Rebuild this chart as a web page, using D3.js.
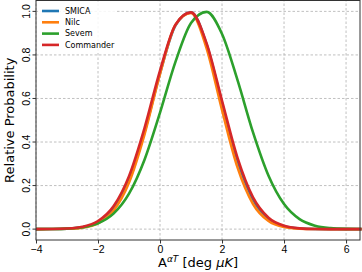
<!DOCTYPE html>
<html>
<head>
<meta charset="utf-8">
<script src="https://cdn.jsdelivr.net/npm/d3@7"></script>
<style>
  body { margin: 0; background: #fff; }
  svg { display: block; font-family: "DejaVu Sans", sans-serif; }
  .grid line { stroke: #b0b0b0; stroke-dasharray: 2.5,2; stroke-width: 0.8; }
  .axis path, .axis line { stroke: #333; }
  .axis text { fill: #000; font-size: 10.5px; }
</style>
</head>
<body>
<script>
// x samples (deg uK)
var xs = [-4, -3.5, -3, -2.5, -2, -1.5, -1, -0.5, 0, 0.5, 1, 1.5, 2, 2.5, 3, 3.5, 4, 4.5, 5, 5.5, 6, 6.5];
// relative probability
var smica = [0, 0.0003, 0.0019, 0.0084, 0.031, 0.0926, 0.225, 0.4449, 0.7155, 0.936, 0.9955, 0.8493, 0.5776, 0.3132, 0.1353, 0.0466, 0.0128, 0.0028, 0.0005, 0.0001, 0, 0];
var nilc = [0, 0.0002, 0.0014, 0.0068, 0.0267, 0.0843, 0.2136, 0.4352, 0.7132, 0.9389, 0.9931, 0.8313, 0.5473, 0.2833, 0.1153, 0.0369, 0.0093, 0.0018, 0.0003, 0, 0, 0];
var sevem = [0.0001, 0.0006, 0.0023, 0.0085, 0.0266, 0.0711, 0.1627, 0.3189, 0.5352, 0.7692, 0.9468, 0.9979, 0.8964, 0.6844, 0.4441, 0.2449, 0.1148, 0.0457, 0.0155, 0.0045, 0.0011, 0.0002];
var commander = [0.0001, 0.0005, 0.0026, 0.0108, 0.0371, 0.1048, 0.2434, 0.4642, 0.7282, 0.9392, 0.9956, 0.8545, 0.5896, 0.3269, 0.1457, 0.0522, 0.015, 0.0035, 0.0006, 0.0001, 0, 0];
var names = ["SMICA", "Nilc", "Sevem", "Commander"];
var colors = ["#1f77b4", "#ff7f0e", "#2ca02c", "#d62728"];
var xTicks = [-4, -2, 0, 2, 4, 6];
var yTicks = [0, 0.2, 0.4, 0.6, 0.8, 1.0];

var w = 362, h = 272;
var m = {left: 36, right: 2, top: 0.5, bottom: 32};

var svg = d3.select("body").append("svg")
  .attr("width", w)
  .attr("height", h);

var x = d3.scaleLinear().domain([-4, 6.45]).range([m.left, w - m.right]);
var y = d3.scaleLinear().domain([-0.05, 1.05]).range([h - m.bottom, m.top]);

//grid
var grid = svg.append("g").attr("class", "grid");
grid.selectAll(".gx").data(xTicks).enter().append("line")
  .attr("x1", function(d){ return x(d); }).attr("x2", function(d){ return x(d); })
  .attr("y1", y.range()[0]).attr("y2", y.range()[1]);
grid.selectAll(".gy").data(yTicks).enter().append("line")
  .attr("y1", function(d){ return y(d); }).attr("y2", function(d){ return y(d); })
  .attr("x1", x.range()[0]).attr("x2", x.range()[1]);

//curves
var series = [smica, nilc, sevem, commander];
var line = d3.line()
  .x(function(d){ return x(d[0]); })
  .y(function(d){ return y(d[1]); })
  .curve(d3.curveMonotoneX);

svg.selectAll(".curve").data(series).enter().append("path")
  .attr("class", "curve")
  .attr("fill", "none")
  .attr("stroke", function(d, i){ return colors[i]; })
  .attr("stroke-width", 2.6)
  .attr("d", function(d){
    return line(xs.map(function(v, i){ return [v, d[i]]; }));
  });

//frame
svg.append("rect")
  .attr("x", x.range()[0]).attr("y", y.range()[1])
  .attr("width", x.range()[1] - x.range()[0])
  .attr("height", y.range()[0] - y.range()[1])
  .attr("fill", "none").attr("stroke", "#333").attr("stroke-width", 1);

//axes
var xAxis = svg.append("g").attr("class", "axis")
  .attr("transform", "translate(0," + y.range()[0] + ")")
  .call(d3.axisBottom(x).tickValues(xTicks).tickSize(3.5).tickPadding(2)
    .tickFormat(function(d){ return d < 0 ? "\u2212" + Math.abs(d) : d; }));
xAxis.select(".domain").remove();

var yAxis = svg.append("g").attr("class", "axis")
  .attr("transform", "translate(" + x.range()[0] + ",0)")
  .call(d3.axisLeft(y).tickValues(yTicks).tickSize(3.5).tickFormat(d3.format(".1f")));
yAxis.select(".domain").remove();
yAxis.selectAll("text")
  .attr("x", null).attr("dy", null)
  .attr("text-anchor", "middle")
  .attr("transform", function(d){ return "translate(-10," + y(d) + ") rotate(-90)"; })
  .attr("y", 0)
  .attr("dy", "0.35em");
yAxis.selectAll(".tick").attr("transform", null);
yAxis.selectAll(".tick line").attr("transform", function(d){ return "translate(0," + y(d) + ")"; });

//axis labels
svg.append("text")
  .attr("transform", "translate(14," + ((y.range()[0] + y.range()[1]) / 2) + ") rotate(-90)")
  .attr("text-anchor", "middle")
  .style("font-size", "13px")
  .text("Relative Probability");

var xl = svg.append("text")
  .attr("x", (x.range()[0] + x.range()[1]) / 2)
  .attr("y", 267)
  .attr("text-anchor", "middle")
  .style("font-size", "13px");
xl.append("tspan").text("A");
xl.append("tspan").attr("dy", -5).style("font-size", "9px").style("font-style", "italic").text("\u03b1T");
xl.append("tspan").attr("dy", 5).text(" [deg ");
xl.append("tspan").style("font-style", "italic").text("\u03bcK");
xl.append("tspan").text("]");

//legend
var legend = svg.append("g").attr("transform", "translate(38,2)");
legend.append("rect").attr("width", 78).attr("height", 49).attr("fill", "#fff").attr("opacity", 0.85);
var items = legend.selectAll(".item").data(names).enter().append("g")
  .attr("transform", function(d, i){ return "translate(0," + (9 + i * 11.3) + ")"; });
items.append("line")
  .attr("x1", 4).attr("x2", 21)
  .attr("stroke", function(d, i){ return colors[i]; })
  .attr("stroke-width", 2.6);
items.append("text")
  .attr("x", 27).attr("dy", "0.35em")
  .style("font-size", "8px")
  .text(function(d){ return d; });
</script>
</body>
</html>
